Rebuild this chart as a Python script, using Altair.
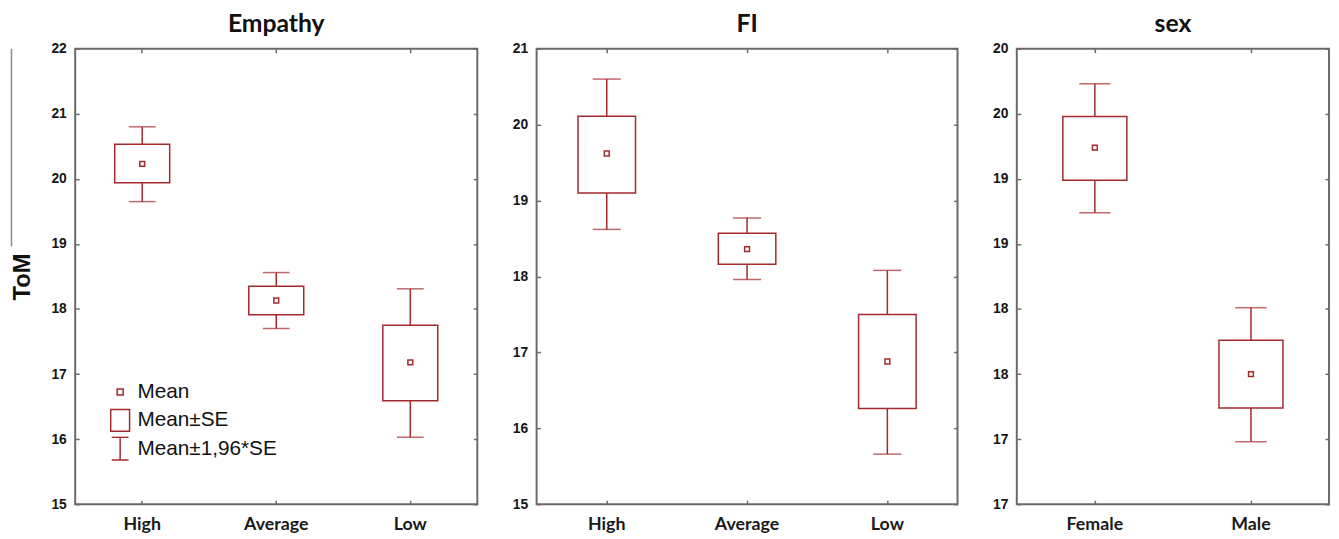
import altair as alt
import pandas as pd

# ---------------- data ----------------
empathy_cats = ["High", "Average", "Low"]
empathy_mean = [20.23, 18.13, 17.18]
empathy_se_lo = [19.94, 17.91, 16.59]
empathy_se_hi = [20.53, 18.35, 17.75]
empathy_ci_lo = [19.65, 17.70, 16.03]
empathy_ci_hi = [20.80, 18.56, 18.31]
empathy_ticks = [15, 16, 17, 18, 19, 20, 21, 22]
empathy_tick_labels = ["15", "16", "17", "18", "19", "20", "21", "22"]

fi_cats = ["High", "Average", "Low"]
fi_mean = [19.62, 18.36, 16.88]
fi_se_lo = [19.10, 18.16, 16.26]
fi_se_hi = [20.11, 18.57, 17.50]
fi_ci_lo = [18.62, 17.96, 15.66]
fi_ci_hi = [20.60, 18.77, 18.08]
fi_ticks = [15, 16, 17, 18, 19, 20, 21]
fi_tick_labels = ["15", "16", "17", "18", "19", "20", "21"]

sex_cats = ["Female", "Male"]
sex_mean = [19.74, 18.00]
sex_se_lo = [19.49, 17.74]
sex_se_hi = [19.98, 18.26]
sex_ci_lo = [19.24, 17.48]
sex_ci_hi = [20.23, 18.51]
sex_ticks = [17, 17.5, 18, 18.5, 19, 19.5, 20, 20.5]
sex_tick_labels = ["17", "17", "18", "18", "19", "19", "20", "20"]

panel_titles = ["Empathy", "FI", "sex"]
y_title = "ToM"
legend_labels = ["Mean", "Mean±SE", "Mean±1,96*SE"]

# ---------------- style ----------------
RED = "#a2292c"
AXIS_GRAY = "#6a6a6a"
TICK_FONT = "Liberation Sans"
CAT_FONT = "Lato"
H = 461

# legend glyphs, unit = 11.5 px (symbolSize 529)
legend_paths = [
    "M-0.26,-0.26L0.26,-0.26L0.26,0.26L-0.26,0.26Z",
    "M-0.83,-0.96L0.83,-0.96L0.83,0.96L-0.83,0.96Z",
    "M-0.74,-1L0.74,-1M0,-1L0,1M-0.74,1L0.74,1",
]


def label_expr(values, labels):
    pairs = ",".join(f"'{v:g}':'{l}'" for v, l in zip(values, labels))
    return "({" + pairs + "})[datum.value]"


def panel(title, cats, mean, se_lo, se_hi, ci_lo, ci_hi, ticks, tick_labels,
          width, show_title=False, legend=False):
    df = pd.DataFrame({"cat": cats, "mean": mean, "se_lo": se_lo, "se_hi": se_hi,
                       "ci_lo": ci_lo, "ci_hi": ci_hi})
    yscale = alt.Scale(domain=[ticks[0], ticks[-1]], nice=False, zero=False)
    xscale = alt.Scale(type="band", domain=cats, paddingInner=0, paddingOuter=0)
    step = width / len(cats)

    ax_left = alt.Axis(orient="left", values=ticks, labelExpr=label_expr(ticks, tick_labels),
                       offset=-4, tickSize=4, domain=False, grid=False, labelPadding=9,
                       labelFlush=False, labelOverlap=False,
                       labelFont=TICK_FONT, labelFontWeight="bold", labelFontSize=14,
                       labelColor="#151515", tickColor=AXIS_GRAY, tickWidth=1.5,
                       title=y_title if show_title else None,
                       titleFont=TICK_FONT, titleFontWeight="bold", titleFontSize=24,
                       titleColor="#111", titlePadding=17)
    ax_right = alt.Axis(orient="right", values=ticks, labels=False, offset=-4, tickSize=4,
                        domain=False, grid=False, tickColor=AXIS_GRAY, tickWidth=1.5,
                        title=None)
    ax_bottom = alt.Axis(orient="bottom", labelAngle=0, offset=-4, tickSize=4, domain=False,
                         grid=False, labelPadding=12, labelFont=CAT_FONT,
                         labelFontWeight="bold", labelFontSize=18, labelColor="#1a1a1a",
                         tickColor=AXIS_GRAY, tickWidth=1.5, title=None)
    ax_top = alt.Axis(orient="top", labels=False, offset=-4, tickSize=4, domain=False,
                      grid=False, tickColor=AXIS_GRAY, tickWidth=1.5, title=None)

    base = alt.Chart(df)
    whisk = base.mark_rule(color=RED, strokeWidth=1.5).encode(
        x=alt.X("cat:N", scale=xscale, axis=ax_bottom, sort=cats),
        y=alt.Y("ci_lo:Q", scale=yscale, axis=ax_left),
        y2="ci_hi:Q",
    )
    box = base.mark_bar(width=alt.RelativeBandSize(0.41), fill="white", stroke=RED,
                        strokeWidth=1.5).encode(
        x=alt.X("cat:N", scale=xscale, axis=ax_top, sort=cats),
        y=alt.Y("se_lo:Q", scale=yscale, axis=ax_right),
        y2="se_hi:Q",
    )
    cap_hi = base.mark_tick(color=RED, size=0.2 * step, thickness=1.5).encode(
        x=alt.X("cat:N", scale=xscale, axis=None, sort=cats),
        y=alt.Y("ci_hi:Q", scale=yscale, axis=None),
    )
    cap_lo = base.mark_tick(color=RED, size=0.2 * step, thickness=1.5).encode(
        x=alt.X("cat:N", scale=xscale, axis=None, sort=cats),
        y=alt.Y("ci_lo:Q", scale=yscale, axis=None),
    )
    pt = base.mark_point(shape="square", filled=False, color=RED, size=24,
                         strokeWidth=1.5, opacity=1).encode(
        x=alt.X("cat:N", scale=xscale, axis=None, sort=cats),
        y=alt.Y("mean:Q", scale=yscale, axis=None),
    )
    layers = [whisk, box, cap_hi, cap_lo, pt]
    if legend:
        ldf = pd.DataFrame({"label": legend_labels})
        leg = alt.Chart(ldf).mark_point(filled=False, opacity=0, color=RED).encode(
            x=alt.value(0), y=alt.value(0),
            shape=alt.Shape("label:N",
                            scale=alt.Scale(domain=legend_labels, range=legend_paths),
                            legend=alt.Legend(orient="none", legendX=33, legendY=335,
                                              title=None, symbolSize=529,
                                              symbolStrokeColor=RED,
                                              symbolFillColor="transparent",
                                              symbolStrokeWidth=1.5, symbolOpacity=1,
                                              labelFont=TICK_FONT, labelFontSize=21,
                                              labelColor="#111", labelOffset=5,
                                              clipHeight=25, rowPadding=3.6,
                                              padding=0, labelLimit=300)),
        )
        # thin grey edge line seen at the far left of the original figure
        edge = alt.Chart(ldf.head(1)).mark_rule(color="#8a8a8a", strokeWidth=1.5).encode(
            x=alt.value(-64.5), y=alt.value(0), y2=alt.value(200),
        )
        layers += [leg, edge]
    return alt.layer(*layers).resolve_axis(x="independent", y="independent").properties(
        width=width, height=H,
        title=alt.Title(title, fontSize=25, font=CAT_FONT, fontWeight="bold",
                        color="#111", anchor="middle", offset=5),
    )


p1 = panel(panel_titles[0], empathy_cats, empathy_mean, empathy_se_lo, empathy_se_hi,
           empathy_ci_lo, empathy_ci_hi, empathy_ticks, empathy_tick_labels, 407,
           show_title=True, legend=True)
p2 = panel(panel_titles[1], fi_cats, fi_mean, fi_se_lo, fi_se_hi, fi_ci_lo, fi_ci_hi,
           fi_ticks, fi_tick_labels, 426)
p3 = panel(panel_titles[2], sex_cats, sex_mean, sex_se_lo, sex_se_hi, sex_ci_lo, sex_ci_hi,
           sex_ticks, sex_tick_labels, 316)

chart = alt.hconcat(p1, p2, p3, spacing=32).resolve_scale(shape="independent").properties(
    padding={"left": 1, "top": 0, "right": 0, "bottom": 0}
).configure_view(stroke=AXIS_GRAY, strokeWidth=2)

chart.save("out.html", embed_options={"renderer": "svg", "actions": False})
